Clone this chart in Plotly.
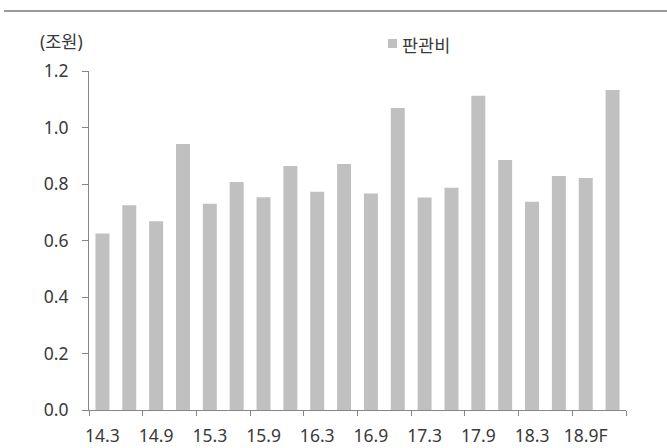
import plotly.graph_objects as go

# Quarterly SG&A expense (trillion KRW), 1Q14 through 4Q18F
quarters = ["14.3", "14.6", "14.9", "14.12",
            "15.3", "15.6", "15.9", "15.12",
            "16.3", "16.6", "16.9", "16.12",
            "17.3", "17.6", "17.9", "17.12",
            "18.3", "18.6", "18.9F", "18.12F"]
sga = [0.625, 0.725, 0.668, 0.942,
       0.730, 0.807, 0.753, 0.864,
       0.773, 0.871, 0.766, 1.069,
       0.752, 0.787, 1.112, 0.885,
       0.737, 0.828, 0.821, 1.133]
series_name = "판관비"
unit_label = "(조원)"
y_ticks = [0.0, 0.2, 0.4, 0.6, 0.8, 1.0, 1.2]

bar_color = "#c0c0c0"
axis_color = "#868686"
text_color = "#3a3a3a"
font_family = "Noto Sans, Noto Sans CJK KR, sans-serif"

idx = list(range(len(quarters)))
label_pos = idx[::2]
label_text = [quarters[i] for i in label_pos]
boundaries = [i - 0.5 for i in label_pos] + [len(quarters) - 0.5]

fig = go.Figure()
fig.add_trace(go.Bar(
    x=idx, y=sga, name=series_name,
    marker=dict(color=bar_color, line=dict(width=0)),
    width=0.52, showlegend=False,
))

fig.update_layout(
    width=667, height=448,
    margin=dict(l=89, r=41, t=71, b=38, autoexpand=False),
    paper_bgcolor="white", plot_bgcolor="white",
    font=dict(family=font_family, size=17.5, color=text_color),
    xaxis=dict(
        range=[-0.5, len(quarters) - 0.5],
        tickmode="array", tickvals=label_pos, ticktext=label_text,
        ticks="", showgrid=False, zeroline=False, automargin=False,
        showline=True, linecolor=axis_color, linewidth=1,
        ticklabelstandoff=10,
        minor=dict(tickmode="array", tickvals=boundaries,
                   ticks="outside", ticklen=5, tickcolor=axis_color,
                   tickwidth=1, showgrid=False),
    ),
    yaxis=dict(
        range=[0, 1.2], automargin=False,
        tickmode="array", tickvals=y_ticks,
        ticktext=[f"{v:.1f}" for v in y_ticks],
        ticks="outside", ticklen=6, tickcolor=axis_color, tickwidth=1,
        showgrid=False, zeroline=False,
        showline=True, linecolor=axis_color, linewidth=1,
        ticklabelstandoff=10,
    ),
    shapes=[
        # header rule across the top of the figure
        dict(type="line", xref="paper", yref="paper",
             x0=(4 - 89) / 537, x1=(667 - 89) / 537,
             y0=(410 - 11) / 339, y1=(410 - 11) / 339,
             line=dict(color="#999999", width=2)),
        # legend swatch
        dict(type="rect", xref="paper", yref="paper",
             x0=(388 - 89) / 537, x1=(397 - 89) / 537,
             y0=(410 - 48) / 339, y1=(410 - 39) / 339,
             fillcolor=bar_color, line=dict(width=0)),
    ],
    annotations=[
        dict(text=unit_label, xref="paper", yref="paper",
             x=(61 - 89) / 537, y=(410 - 41) / 339,
             xanchor="center", yanchor="middle", showarrow=False,
             font=dict(size=17.5, color=text_color)),
        dict(text=series_name, xref="paper", yref="paper",
             x=(400 - 89) / 537, y=(410 - 45) / 339,
             xanchor="left", yanchor="middle", showarrow=False,
             font=dict(size=17.5, color=text_color)),
    ],
)

fig.write_html("out.html")
